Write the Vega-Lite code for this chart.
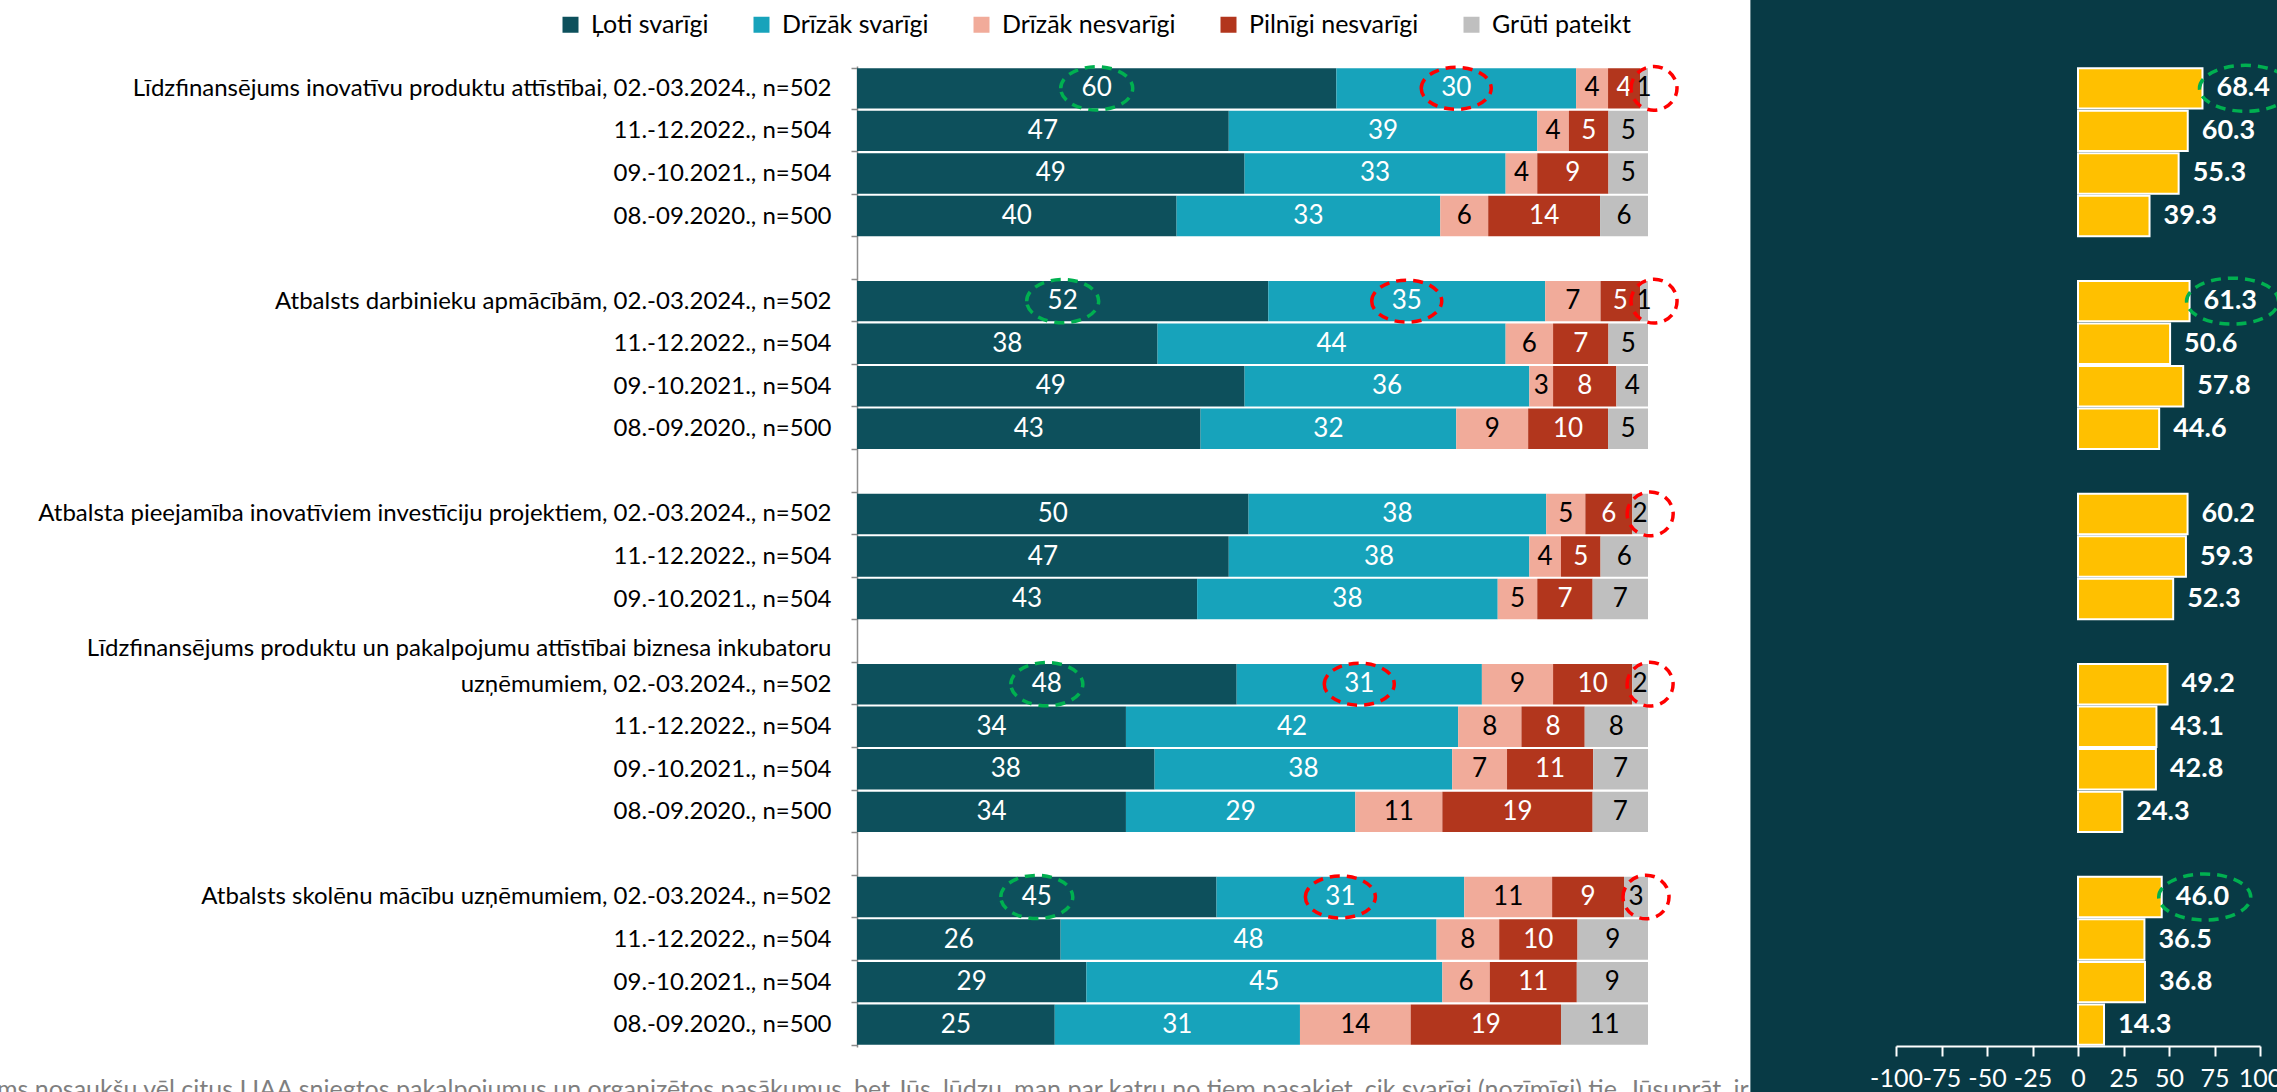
{
  "$schema": "https://vega.github.io/schema/vega-lite/v6.json",
  "width": 2277,
  "height": 1092,
  "autosize": "none",
  "padding": 0,
  "background": "white",
  "config": {"view": {"stroke": null}, "font": "Lato"},
  "data": {
    "values": [
      {"row": "Līdzfinansējums inovatīvu produktu attīstībai, 02.-03.2024., n=502", "Ļoti svarīgi": 60, "Drīzāk svarīgi": 30, "Drīzāk nesvarīgi": 4, "Pilnīgi nesvarīgi": 4, "Grūti pateikt": 1, "indekss": 68.4, "aplis": ["Ļoti svarīgi", "Drīzāk svarīgi", "Grūti pateikt"], "aplisIndekss": true},
      {"row": "11.-12.2022., n=504|1", "Ļoti svarīgi": 47, "Drīzāk svarīgi": 39, "Drīzāk nesvarīgi": 4, "Pilnīgi nesvarīgi": 5, "Grūti pateikt": 5, "indekss": 60.3, "aplis": [], "aplisIndekss": false},
      {"row": "09.-10.2021., n=504|1", "Ļoti svarīgi": 49, "Drīzāk svarīgi": 33, "Drīzāk nesvarīgi": 4, "Pilnīgi nesvarīgi": 9, "Grūti pateikt": 5, "indekss": 55.3, "aplis": [], "aplisIndekss": false},
      {"row": "08.-09.2020., n=500|1", "Ļoti svarīgi": 40, "Drīzāk svarīgi": 33, "Drīzāk nesvarīgi": 6, "Pilnīgi nesvarīgi": 14, "Grūti pateikt": 6, "indekss": 39.3, "aplis": [], "aplisIndekss": false},
      {"row": "Atbalsts darbinieku apmācībām, 02.-03.2024., n=502", "Ļoti svarīgi": 52, "Drīzāk svarīgi": 35, "Drīzāk nesvarīgi": 7, "Pilnīgi nesvarīgi": 5, "Grūti pateikt": 1, "indekss": 61.3, "aplis": ["Ļoti svarīgi", "Drīzāk svarīgi", "Grūti pateikt"], "aplisIndekss": true},
      {"row": "11.-12.2022., n=504|2", "Ļoti svarīgi": 38, "Drīzāk svarīgi": 44, "Drīzāk nesvarīgi": 6, "Pilnīgi nesvarīgi": 7, "Grūti pateikt": 5, "indekss": 50.6, "aplis": [], "aplisIndekss": false},
      {"row": "09.-10.2021., n=504|2", "Ļoti svarīgi": 49, "Drīzāk svarīgi": 36, "Drīzāk nesvarīgi": 3, "Pilnīgi nesvarīgi": 8, "Grūti pateikt": 4, "indekss": 57.8, "aplis": [], "aplisIndekss": false},
      {"row": "08.-09.2020., n=500|2", "Ļoti svarīgi": 43, "Drīzāk svarīgi": 32, "Drīzāk nesvarīgi": 9, "Pilnīgi nesvarīgi": 10, "Grūti pateikt": 5, "indekss": 44.6, "aplis": [], "aplisIndekss": false},
      {"row": "Atbalsta pieejamība inovatīviem investīciju projektiem, 02.-03.2024., n=502", "Ļoti svarīgi": 50, "Drīzāk svarīgi": 38, "Drīzāk nesvarīgi": 5, "Pilnīgi nesvarīgi": 6, "Grūti pateikt": 2, "indekss": 60.2, "aplis": ["Grūti pateikt"], "aplisIndekss": false},
      {"row": "11.-12.2022., n=504|3", "Ļoti svarīgi": 47, "Drīzāk svarīgi": 38, "Drīzāk nesvarīgi": 4, "Pilnīgi nesvarīgi": 5, "Grūti pateikt": 6, "indekss": 59.3, "aplis": [], "aplisIndekss": false},
      {"row": "09.-10.2021., n=504|3", "Ļoti svarīgi": 43, "Drīzāk svarīgi": 38, "Drīzāk nesvarīgi": 5, "Pilnīgi nesvarīgi": 7, "Grūti pateikt": 7, "indekss": 52.3, "aplis": [], "aplisIndekss": false},
      {"row": "Līdzfinansējums produktu un pakalpojumu attīstībai biznesa inkubatoru\nuzņēmumiem, 02.-03.2024., n=502", "Ļoti svarīgi": 48, "Drīzāk svarīgi": 31, "Drīzāk nesvarīgi": 9, "Pilnīgi nesvarīgi": 10, "Grūti pateikt": 2, "indekss": 49.2, "aplis": ["Ļoti svarīgi", "Drīzāk svarīgi", "Grūti pateikt"], "aplisIndekss": false},
      {"row": "11.-12.2022., n=504|4", "Ļoti svarīgi": 34, "Drīzāk svarīgi": 42, "Drīzāk nesvarīgi": 8, "Pilnīgi nesvarīgi": 8, "Grūti pateikt": 8, "indekss": 43.1, "aplis": [], "aplisIndekss": false},
      {"row": "09.-10.2021., n=504|4", "Ļoti svarīgi": 38, "Drīzāk svarīgi": 38, "Drīzāk nesvarīgi": 7, "Pilnīgi nesvarīgi": 11, "Grūti pateikt": 7, "indekss": 42.8, "aplis": [], "aplisIndekss": false},
      {"row": "08.-09.2020., n=500|4", "Ļoti svarīgi": 34, "Drīzāk svarīgi": 29, "Drīzāk nesvarīgi": 11, "Pilnīgi nesvarīgi": 19, "Grūti pateikt": 7, "indekss": 24.3, "aplis": [], "aplisIndekss": false},
      {"row": "Atbalsts skolēnu mācību uzņēmumiem, 02.-03.2024., n=502", "Ļoti svarīgi": 45, "Drīzāk svarīgi": 31, "Drīzāk nesvarīgi": 11, "Pilnīgi nesvarīgi": 9, "Grūti pateikt": 3, "indekss": 46.0, "aplis": ["Ļoti svarīgi", "Drīzāk svarīgi", "Grūti pateikt"], "aplisIndekss": true},
      {"row": "11.-12.2022., n=504|5", "Ļoti svarīgi": 26, "Drīzāk svarīgi": 48, "Drīzāk nesvarīgi": 8, "Pilnīgi nesvarīgi": 10, "Grūti pateikt": 9, "indekss": 36.5, "aplis": [], "aplisIndekss": false},
      {"row": "09.-10.2021., n=504|5", "Ļoti svarīgi": 29, "Drīzāk svarīgi": 45, "Drīzāk nesvarīgi": 6, "Pilnīgi nesvarīgi": 11, "Grūti pateikt": 9, "indekss": 36.8, "aplis": [], "aplisIndekss": false},
      {"row": "08.-09.2020., n=500|5", "Ļoti svarīgi": 25, "Drīzāk svarīgi": 31, "Drīzāk nesvarīgi": 14, "Pilnīgi nesvarīgi": 19, "Grūti pateikt": 11, "indekss": 14.3, "aplis": [], "aplisIndekss": false}
    ]
  },
  "resolve": {"scale": {"x": "independent"}},
  "layer": [
    {
      "layer": [
        {
          "data": {"values": [{}]},
          "mark": {"type": "rect", "color": "#083A45"},
          "encoding": {
            "x": {"datum": -180, "type": "quantitative", "scale": {"domain": [-100, 100], "range": [1896, 2260]}},
            "x2": {"datum": 115}
          }
        },
        {
          "mark": {"type": "bar", "color": "#FFC000", "stroke": "white", "strokeWidth": 2},
          "encoding": {
            "y": {"field": "row", "type": "nominal", "scale": {"domain": ["Līdzfinansējums inovatīvu produktu attīstībai, 02.-03.2024., n=502", "11.-12.2022., n=504|1", "09.-10.2021., n=504|1", "08.-09.2020., n=500|1", "|a", "Atbalsts darbinieku apmācībām, 02.-03.2024., n=502", "11.-12.2022., n=504|2", "09.-10.2021., n=504|2", "08.-09.2020., n=500|2", "|b", "Atbalsta pieejamība inovatīviem investīciju projektiem, 02.-03.2024., n=502", "11.-12.2022., n=504|3", "09.-10.2021., n=504|3", "|c", "Līdzfinansējums produktu un pakalpojumu attīstībai biznesa inkubatoru\nuzņēmumiem, 02.-03.2024., n=502", "11.-12.2022., n=504|4", "09.-10.2021., n=504|4", "08.-09.2020., n=500|4", "|d", "Atbalsts skolēnu mācību uzņēmumiem, 02.-03.2024., n=502", "11.-12.2022., n=504|5", "09.-10.2021., n=504|5", "08.-09.2020., n=500|5"], "range": [66, 1047], "paddingInner": 0.05, "paddingOuter": 0.05}},
            "x": {"field": "indekss", "type": "quantitative", "scale": {"domain": [-100, 100], "range": [1896, 2260]},
              "axis": {"orient": "bottom", "offset": -46, "values": [-100, -75, -50, -25, 0, 25, 50, 75, 100], "labelExpr": "'' + datum.value", "domain": true, "ticks": true, "labels": true, "domainColor": "white", "domainWidth": 2, "tickColor": "white", "tickWidth": 2, "tickSize": 10, "labelColor": "white", "labelFont": "Lato", "labelFontSize": 25, "labelPadding": 10, "labelFlush": false, "labelOverlap": false, "grid": false, "title": null, "zindex": 2}}
          }
        },
        {
          "mark": {"type": "text", "align": "left", "baseline": "middle", "dx": 14, "font": "Lato", "fontSize": 27, "fontWeight": "bold", "color": "white"},
          "encoding": {
            "y": {"field": "row", "type": "nominal"},
            "x": {"field": "indekss", "type": "quantitative"},
            "text": {"field": "indekss", "type": "quantitative", "format": ".1f"}
          }
        },
        {
          "transform": [{"filter": "datum.aplisIndekss"}],
          "mark": {"type": "point", "shape": "M-1,0A1,0.5,0,1,1,1,0A1,0.5,0,1,1,-1,0Z", "size": 8464, "filled": false, "stroke": "#00B050", "color": "#00B050", "strokeWidth": 3.5, "strokeDash": [10, 7], "opacity": 1, "xOffset": 43},
          "encoding": {
            "y": {"field": "row", "type": "nominal"},
            "x": {"field": "indekss", "type": "quantitative"}
          }
        }
      ]
    },
    {
      "transform": [
        {"fold": ["Ļoti svarīgi", "Drīzāk svarīgi", "Drīzāk nesvarīgi", "Pilnīgi nesvarīgi", "Grūti pateikt"], "as": ["kategorija", "vertiba"]},
        {"calculate": "indexof(['Ļoti svarīgi', 'Drīzāk svarīgi', 'Drīzāk nesvarīgi', 'Pilnīgi nesvarīgi', 'Grūti pateikt'], datum.kategorija)", "as": "seciba"},
        {"stack": "vertiba", "groupby": ["row"], "sort": [{"field": "seciba", "order": "ascending"}], "offset": "normalize", "as": ["x0", "x1"]},
        {"calculate": "(datum.x0 + datum.x1) / 2", "as": "vidus"}
      ],
      "layer": [
        {
          "mark": {"type": "bar"},
          "encoding": {
            "y": {"field": "row", "type": "nominal",
              "axis": {"orient": "left", "offset": -857, "title": null, "domain": true, "ticks": true, "labels": true, "labelExpr": "isValid(datum.value) ? reverse(split(split(datum.value, '|')[0], '\\n')) : ''", "labelFont": "Lato", "labelFontSize": 24, "labelColor": "#000000", "labelPadding": 20, "labelLimit": 0, "labelLineHeight": -36, "labelOverlap": false, "labelBound": false, "tickBand": "extent", "tickSize": 6, "tickColor": "#8C8C8C", "tickWidth": 1.5, "domainColor": "#8C8C8C", "domainWidth": 1.5, "grid": false}},
            "x": {"field": "x0", "type": "quantitative", "scale": {"domain": [0, 1], "range": [857, 1648]},
              "axis": {"orient": "bottom", "domain": false, "ticks": false, "labels": false, "grid": false, "title": "Tagad es Jums nosaukšu vēl citus LIAA sniegtos pakalpojumus un organizētos pasākumus, bet Jūs, lūdzu, man par katru no tiem pasakiet, cik svarīgi (nozīmīgi) tie, Jūsuprāt, ir", "titleFont": "Lato", "titleFontSize": 25, "titleFontWeight": "normal", "titleColor": "#7F7F7F", "titleAlign": "right", "titleAnchor": "end", "titleX": 1748, "titleY": 5, "titleBaseline": "alphabetic", "titleLimit": 4000}},
            "x2": {"field": "x1"},
            "color": {"field": "kategorija", "type": "nominal",
              "scale": {"domain": ["Ļoti svarīgi", "Drīzāk svarīgi", "Drīzāk nesvarīgi", "Pilnīgi nesvarīgi", "Grūti pateikt"], "range": ["#0D505C", "#17A3BB", "#F1AB9A", "#B2361D", "#BFBFBF"]},
              "legend": {"orient": "none", "legendX": 558, "legendY": 12, "direction": "horizontal", "title": null, "symbolType": "square", "symbolSize": 256, "symbolStrokeWidth": 0, "labelFont": "Lato", "labelFontSize": 25, "labelColor": "#000000", "labelOffset": 8, "columnPadding": 40, "padding": 0, "labelLimit": 0}}
          }
        },
        {
          "mark": {"type": "text", "align": "center", "baseline": "middle", "font": "Lato", "fontSize": 26},
          "encoding": {
            "y": {"field": "row", "type": "nominal"},
            "x": {"field": "vidus", "type": "quantitative"},
            "text": {"field": "vertiba", "type": "quantitative"},
            "color": {"condition": {"test": "datum.kategorija == 'Drīzāk nesvarīgi' || datum.kategorija == 'Grūti pateikt'", "value": "#000000"}, "value": "#FFFFFF"}
          }
        },
        {
          "transform": [{"filter": "datum.kategorija == 'Ļoti svarīgi' && indexof(datum.aplis, datum.kategorija) >= 0"}],
          "mark": {"type": "point", "shape": "M-1,0A1,0.6,0,1,1,1,0A1,0.6,0,1,1,-1,0Z", "size": 5184, "filled": false, "stroke": "#00B050", "color": "#00B050", "strokeWidth": 3.5, "strokeDash": [10, 7], "opacity": 1},
          "encoding": {
            "y": {"field": "row", "type": "nominal"},
            "x": {"field": "vidus", "type": "quantitative"}
          }
        },
        {
          "transform": [{"filter": "datum.kategorija == 'Drīzāk svarīgi' && indexof(datum.aplis, datum.kategorija) >= 0"}],
          "mark": {"type": "point", "shape": "M-1,0A1,0.6,0,1,1,1,0A1,0.6,0,1,1,-1,0Z", "size": 4900, "filled": false, "stroke": "#FF0000", "color": "#FF0000", "strokeWidth": 3.5, "strokeDash": [10, 7], "opacity": 1},
          "encoding": {
            "y": {"field": "row", "type": "nominal"},
            "x": {"field": "vidus", "type": "quantitative"}
          }
        },
        {
          "transform": [{"filter": "datum.kategorija == 'Grūti pateikt' && indexof(datum.aplis, datum.kategorija) >= 0"}],
          "mark": {"type": "point", "shape": "M-1,0A1,0.95,0,1,1,1,0A1,0.95,0,1,1,-1,0Z", "size": 2116, "filled": false, "stroke": "#FF0000", "color": "#FF0000", "strokeWidth": 3.5, "strokeDash": [10, 7], "opacity": 1, "xOffset": 10},
          "encoding": {
            "y": {"field": "row", "type": "nominal"},
            "x": {"field": "vidus", "type": "quantitative"}
          }
        }
      ]
    }
  ]
}
